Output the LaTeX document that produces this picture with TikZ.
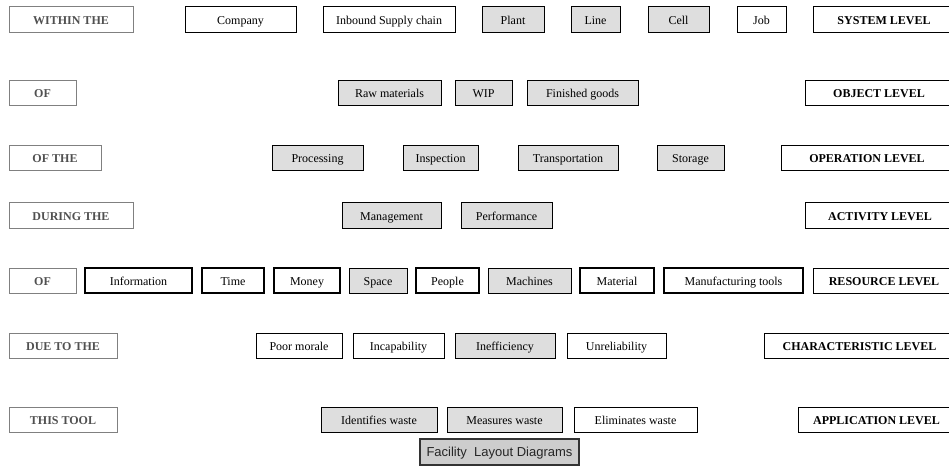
\documentclass[tikz,border=0pt]{standalone}
\usepackage{fontspec}
\setmainfont{Liberation Serif}
\newfontfamily\arialf{Liberation Sans}
\definecolor{labgray}{HTML}{808080}
\definecolor{labtext}{HTML}{505050}
\definecolor{lightfill}{HTML}{DEDEDE}
\definecolor{darkfill}{HTML}{CDCDCD}
\tikzset{
  basebox/.style={draw, inner sep=0pt, line width=1pt, font=\fontsize{12}{14}\selectfont, text height=11.5pt, text depth=1pt},
  lab/.style={basebox, draw=labgray, text=labtext, font=\fontsize{12}{14}\selectfont\bfseries},
  lvl/.style={basebox, draw=black, font=\fontsize{12}{14}\selectfont\bfseries},
  wbox/.style={basebox, fill=white},
  gbox/.style={basebox, fill=lightfill},
  rbox/.style={basebox, fill=white, line width=1.5pt},
  fbox/.style={basebox, fill=darkfill, draw=black!80, line width=1.2pt, text=black!85, font=\arialf\fontsize{13}{15}\selectfont, text height=11pt, text depth=1.5pt},
}
\newcommand\bx[7]{\node[#1, minimum width={(#4-#3)*1pt}, minimum height={(#6-#5)*1pt}] (#2) at ({(#3+#4)/2},{(#5+#6)/2}) {#7};}
\begin{document}
\begin{tikzpicture}[x=1pt,y=-1pt]
\useasboundingbox (0,0) rectangle (949,466);
\clip (0,0) rectangle (949,466);
% Row 1
\bx{lab}{l1}{9}{133}{6}{32}{WITHIN THE}
\bx{wbox}{company}{185}{296}{6}{32}{Company}
\bx{wbox}{inbound}{323}{455}{6}{32}{Inbound Supply chain}
\bx{gbox}{plant}{482}{544}{6}{32}{Plant}
\bx{gbox}{line}{571}{620}{6}{32}{Line}
\bx{gbox}{cell}{648}{709}{6}{32}{Cell}
\bx{wbox}{job}{737}{786}{6}{32}{Job}
\bx{lvl}{v1}{813}{955}{6}{32}{SYSTEM LEVEL}
% Row 2
\bx{lab}{l2}{9}{76}{80}{105}{OF}
\bx{gbox}{raw}{338}{441}{80}{105}{Raw materials}
\bx{gbox}{wip}{455}{512}{80}{105}{WIP}
\bx{gbox}{finished}{527}{638}{80}{105}{Finished goods}
\bx{lvl}{v2}{805}{953}{80}{105}{OBJECT LEVEL}
% Row 3
\bx{lab}{l3}{9}{101}{145}{170}{OF THE}
\bx{gbox}{processing}{272}{363}{145}{170}{Processing}
\bx{gbox}{inspection}{403}{478}{145}{170}{Inspection}
\bx{gbox}{transport}{518}{618}{145}{170}{Transportation}
\bx{gbox}{storage}{657}{724}{145}{170}{Storage}
\bx{lvl}{v3}{781}{953}{145}{170}{OPERATION LEVEL}
% Row 4
\bx{lab}{l4}{9}{133}{202}{228}{DURING THE}
\bx{gbox}{management}{342}{441}{202}{228}{Management}
\bx{gbox}{performance}{461}{552}{202}{228}{Performance}
\bx{lvl}{v4}{805}{955}{202}{228}{ACTIVITY LEVEL}
% Row 5
\bx{lab}{l5}{9}{76}{268}{293}{OF}
\bx{rbox}{information}{85}{192}{268}{293}{Information}
\bx{rbox}{time}{202}{264}{268}{293}{Time}
\bx{rbox}{money}{274}{340}{268}{293}{Money}
\bx{gbox}{space}{349}{407}{268}{293}{Space}
\bx{rbox}{people}{416}{479}{268}{293}{People}
\bx{gbox}{machines}{488}{571}{268}{293}{Machines}
\bx{rbox}{material}{580}{654}{268}{293}{Material}
\bx{rbox}{mtools}{664}{803}{268}{293}{Manufacturing tools}
\bx{lvl}{v5}{813}{955}{268}{293}{RESOURCE LEVEL}
% Row 6
\bx{lab}{l6}{9}{117}{333}{358}{DUE TO THE}
\bx{wbox}{poor}{256}{342}{333}{358}{Poor morale}
\bx{wbox}{incap}{353}{444}{333}{358}{Incapability}
\bx{gbox}{ineff}{455}{555}{333}{358}{Inefficiency}
\bx{wbox}{unrel}{567}{666}{333}{358}{Unreliability}
\bx{lvl}{v6}{764}{955}{333}{358}{CHARACTERISTIC LEVEL}
% Row 7
\bx{lab}{l7}{9}{117}{407}{432}{THIS TOOL}
\bx{gbox}{identifies}{321}{437}{407}{432}{Identifies waste}
\bx{gbox}{measures}{447}{562}{407}{432}{Measures waste}
\bx{wbox}{eliminates}{574}{697}{407}{432}{Eliminates waste}
\bx{lvl}{v7}{798}{955}{407}{432}{APPLICATION LEVEL}
% Bottom
\bx{fbox}{facility}{420}{579}{439}{465}{Facility\ \ Layout Diagrams}
\end{tikzpicture}
\end{document}
